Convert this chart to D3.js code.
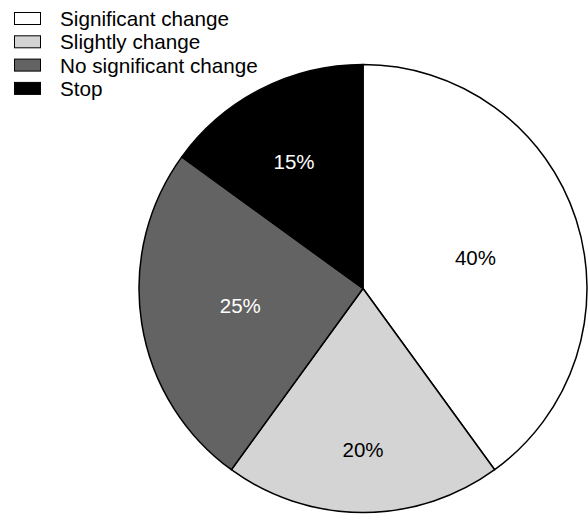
<!DOCTYPE html>
<html><head><meta charset="utf-8">
<script src="https://cdn.jsdelivr.net/npm/d3@7"></script>
<style>html,body{margin:0;padding:0;background:#fff;}svg{display:block;}</style>
</head><body>
<svg id="chart" width="588" height="515"></svg>
<script>
const categories = ["Significant change", "Slightly change", "No significant change", "Stop"];
const values = [40, 20, 25, 15];
const labels = ["40%", "20%", "25%", "15%"];

const fills = ["#ffffff", "#d4d4d4", "#636363", "#000000"];
const labelColors = ["#000", "#000", "#fff", "#fff"];
// label placement (layout only): distance as fraction of radius, and angular nudge in degrees
const labelRadiusFrac = [0.52, 0.718, 0.553, 0.645];
const labelAngleNudge = [2.8, 0, 1, -1.5];

const W = 588, H = 515;
const cx = 363, cy = 288.5, R = 224;
const svg = d3.select("#chart");

const pie = d3.pie().sort(null).value(d => d)(values);
const arc = d3.arc().innerRadius(0).outerRadius(R);

const g = svg.append("g").attr("transform", `translate(${cx},${cy})`);
g.selectAll("path").data(pie).join("path")
  .attr("d", arc)
  .attr("fill", (d, i) => fills[i])
  .attr("stroke", "#000")
  .attr("stroke-width", 1.5)
  .attr("stroke-linejoin", "round");

g.selectAll("text").data(pie).join("text")
  .attr("transform", (d, i) => {
    const a = (d.startAngle + d.endAngle) / 2 + labelAngleNudge[i] * Math.PI / 180;
    const r = R * labelRadiusFrac[i];
    return `translate(${Math.sin(a) * r},${-Math.cos(a) * r})`;
  })
  .attr("text-anchor", "middle")
  .attr("dy", "0.35em")
  .attr("font-family", "Liberation Sans, Arial, sans-serif")
  .attr("font-size", 20.5)
  .attr("fill", (d, i) => labelColors[i])
  .text((d, i) => labels[i]);

const leg = svg.append("g");
const rowY = d3.scaleLinear().domain([0, 1]).range([12, 35.3]);
categories.forEach((c, i) => {
  const y = rowY(i);
  leg.append("rect").attr("x", 14.5).attr("y", y + 0.5).attr("width", 26).attr("height", 12)
    .attr("fill", fills[i]).attr("stroke", "#000").attr("stroke-width", 1);
  leg.append("text").attr("x", 60).attr("y", y + 14)
    .attr("font-family", "Liberation Sans, Arial, sans-serif")
    .attr("font-size", 20.7).attr("fill", "#000").text(c);
});
</script>
</body></html>
